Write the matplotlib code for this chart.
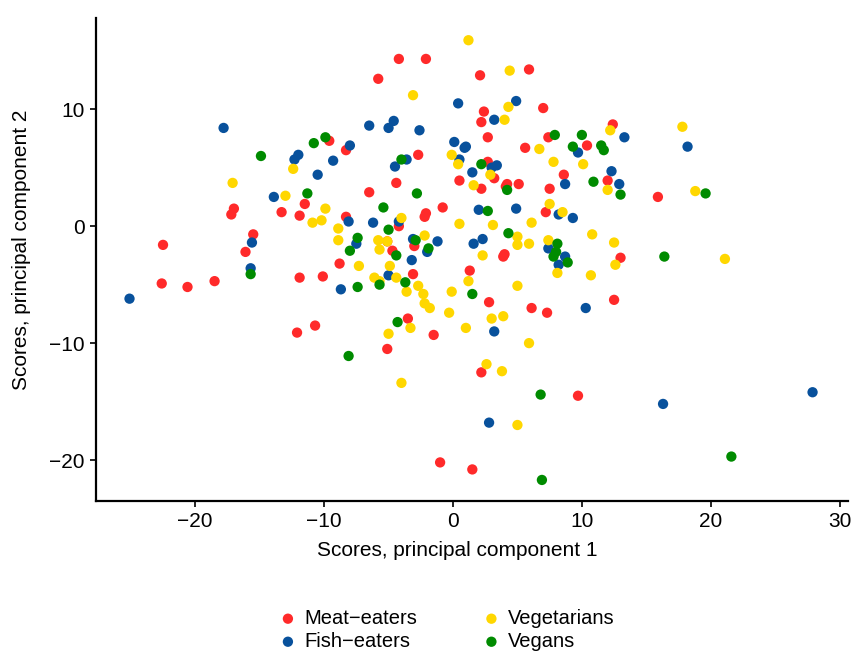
import matplotlib
matplotlib.use("Agg")
import matplotlib.pyplot as plt

plt.rcParams['font.family'] = ['Liberation Sans', 'DejaVu Sans']

meat_x = [-22.5, -22.6, -20.6, -18.5, -16.1, -15.5, -17.0, -17.2, -13.3, -4.2, -2.1, -5.8, -9.6, -8.3, -2.7, 0.5, -4.4,
          2.1, 5.9, 7.0, 2.4, 2.2, 2.7, 12.4, 7.4, 5.6, 10.4, 8.6, 12.0, 5.1, 4.2, 2.7, 3.2, -11.5, -11.9, -6.5, -0.8,
          -2.1, -2.2, -8.3, -4.2, -5.1, -4.7, -3.0, -8.8, -11.9, -10.1, -3.1, 1.3, -10.7, -12.1, -3.5, -1.5, 2.2, 4.1,
          7.5, 7.2, 3.9, 4.0, 13.0, 2.8, 6.1, 7.3, 12.5, 15.9, -5.1, -1.0, 1.5, 2.2, 9.7]
meat_y = [-1.6, -4.9, -5.2, -4.7, -2.2, -0.7, 1.5, 1.0, 1.2, 14.3, 14.3, 12.6, 7.3, 6.5, 6.1, 3.9, 3.7,
          12.9, 13.4, 10.1, 9.8, 8.9, 7.6, 8.7, 7.6, 6.7, 6.9, 4.4, 3.9, 3.6, 3.6, 5.5, 4.1, 1.9, 0.9, 2.9, 1.6,
          1.1, 0.8, 0.8, 0.0, -1.3, -2.1, -1.7, -3.2, -4.4, -4.3, -4.1, -3.8, -8.5, -9.1, -7.9, -9.3, 3.2, 3.4,
          3.2, 1.2, -2.6, -2.4, -2.7, -6.5, -7.0, -7.4, -6.3, 2.5, -10.5, -20.2, -20.8, -12.5, -14.5]

fish_x = [-15.6, -15.7, -25.1, -13.9, -17.8, 0.4, -6.5, -4.6, -5.0, -2.6, -8.0, -12.0, -12.3, -9.3, -10.5, -3.6, -4.5,
          0.1, 0.9, 0.5, 1.5, 4.9, 3.2, 13.3, 9.7, 12.3, 12.9, 8.7, 3.0, 3.4, 1.0, 18.2, -8.1, -6.2, -4.2, -7.5, -3.1,
          -1.2, -2.0, -3.2, -8.7, -5.0, 2.0, 4.9, 8.2, 9.3, 1.6, 2.3, 7.4, 8.7, 8.2, 10.3, 3.2, 2.8, 16.3, 27.9]
fish_y = [-1.4, -3.6, -6.2, 2.5, 8.4, 10.5, 8.6, 9.0, 8.4, 8.2, 6.9, 6.1, 5.7, 5.6, 4.4, 5.7, 5.1,
          7.2, 6.7, 5.7, 4.6, 10.7, 9.1, 7.6, 6.3, 4.7, 3.6, 3.6, 5.0, 5.2, 6.8, 6.8, 0.4, 0.3, 0.4, -1.5, -1.1,
          -1.3, -2.2, -2.9, -5.4, -4.2, 1.4, 1.5, 1.0, 0.7, -1.5, -1.1, -1.9, -2.6, -3.3, -7.0, -9.0, -16.8, -15.2, -14.2]

veg_x = [-17.1, -13.0, 1.2, -3.1, -12.4, -0.1, 0.4, 4.4, 4.3, 4.0, 12.2, 6.7, 7.8, 10.1, 2.9, 1.6, 17.8, -9.9, -10.9,
         -10.2, 0.5, -8.9, -8.9, -4.0, -5.8, -5.1, -5.7, -2.2, -7.3, -4.9, -6.1, -5.7, -4.4, -2.7, -3.6, -2.3, -0.1,
         -2.2, -1.8, -0.3, 1.2, -3.3, -5.0, 1.0, 12.0, 7.5, 8.5, 3.1, 6.1, 5.0, 5.0, 5.9, 2.3, 7.4, 8.1, 10.8, 12.5,
         12.6, 10.7, 5.0, 3.0, 3.9, 5.9, 18.8, 21.1, -4.0, 2.6, 3.8, 5.0]
veg_y = [3.7, 2.6, 15.9, 11.2, 4.9, 6.1, 5.3, 13.3, 10.2, 9.1, 8.2, 6.6, 5.5, 5.3, 4.4, 3.5, 8.5, 1.5, 0.3,
         0.5, 0.2, -0.2, -1.2, 0.7, -1.2, -1.3, -2.0, -0.8, -3.4, -3.4, -4.4, -4.7, -4.4, -5.1, -5.6, -5.8, -5.6,
         -6.6, -7.0, -7.4, -4.7, -8.7, -9.2, -8.7, 3.1, 1.9, 1.2, 0.1, 0.3, -0.9, -1.6, -1.5, -2.5, -1.2, -4.0, -0.7, -1.4,
         -3.3, -4.2, -5.1, -7.9, -7.7, -10.0, 3.0, -2.8, -13.4, -11.8, -12.4, -17.0]

vegan_x = [-15.7, -14.9, -9.9, -10.8, -4.0, 7.9, 10.0, 9.3, 11.5, 11.7, 10.9, 2.2, -11.3, -2.8, -5.4, -5.0, -7.4,
           -8.0, -4.4, -2.9, -1.9, -7.4, -5.7, -3.7, 1.5, -4.3, 4.2, 13.0, 2.7, 4.3, 8.1, 8.0, 7.8, 8.9, 19.6, 16.4,
           -8.1, 6.8, 6.9, 21.6]
vegan_y = [-4.1, 6.0, 7.6, 7.1, 5.7, 7.8, 7.8, 6.8, 6.9, 6.5, 3.8, 5.3, 2.8, 2.8, 1.6, -0.3, -1.0,
           -2.1, -2.5, -1.2, -1.9, -5.2, -5.0, -4.8, -5.8, -8.2, 3.1, 2.7, 1.3, -0.6, -1.5, -2.2, -2.6, -3.1, 2.8, -2.6,
           -11.1, -14.4, -21.7, -19.7]

groups = ["Meat\u2212eaters", "Fish\u2212eaters", "Vegetarians", "Vegans"]
colors = ["#FF2A2A", "#08519C", "#FFD700", "#008B00"]
xticks = [-20, -10, 0, 10, 20, 30]
yticks = [-20, -10, 0, 10]

fig = plt.figure(figsize=(8.54, 6.51), dpi=100)
ax = fig.add_axes([96/854, 1-501/651, (848-96)/854, (501-18)/651])

data = [(meat_x, meat_y), (fish_x, fish_y), (veg_x, veg_y), (vegan_x, vegan_y)]
for (xs, ys), lab, c in zip(data, groups, colors):
    ax.scatter(xs, ys, s=55, color=c, edgecolors='none', label=lab, zorder=3)

ax.set_xlim(-27.7, 30.65)
ax.set_ylim(-23.5, 17.8)
ax.set_xticks(xticks)
ax.set_yticks(yticks)
ax.set_xticklabels([f"{t}".replace("-", "\u2212") for t in xticks])
ax.set_yticklabels([f"{t}".replace("-", "\u2212") for t in yticks])
for s in ['top', 'right']:
    ax.spines[s].set_visible(False)
for s in ['left', 'bottom']:
    ax.spines[s].set_linewidth(1.6)
    ax.spines[s].set_color('black')
ax.tick_params(direction='out', length=4, width=1.2, labelsize=15, colors='black', pad=4)
ax.set_xlabel("Scores, principal component 1", fontsize=15)
ax.set_ylabel("Scores, principal component 2", fontsize=15)
ax.xaxis.set_label_coords((457 - 96) / 752, -(551 - 501) / 483, transform=ax.transAxes)
ax.yaxis.set_label_coords(-(96 - 22) / 752, (501 - 250) / 483, transform=ax.transAxes)
ax.xaxis.label.set_va('center')
ax.yaxis.label.set_va('center')

leg = fig.legend(loc='center', bbox_to_anchor=(0.5 + 19/854, 1-630/651), ncol=2, frameon=False,
                 fontsize=14.5, handlelength=1.0, handletextpad=0.3, columnspacing=3.2,
                 labelspacing=0.2, markerscale=1.0)

fig.savefig("out.png", dpi=100)
